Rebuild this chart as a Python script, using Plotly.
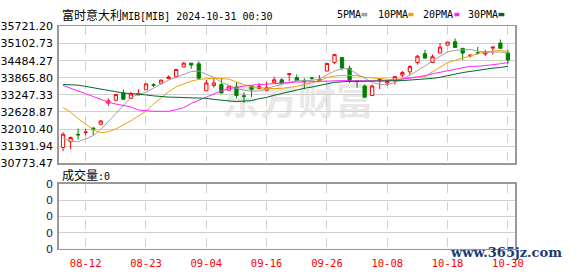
import plotly.graph_objects as go

W, H = 578, 276

DATES = ["08-07","08-08","08-09","08-12","08-13","08-14","08-16","08-19","08-20","08-21",
         "08-22","08-23","08-26","08-27","08-28","08-29","08-30","09-02","09-03","09-04",
         "09-05","09-06","09-09","09-10","09-11","09-12","09-13","09-16","09-17","09-18",
         "09-19","09-20","09-23","09-24","09-25","09-26","09-27","09-30","10-01","10-02",
         "10-03","10-04","10-07","10-08","10-09","10-10","10-11","10-14","10-15","10-16",
         "10-17","10-18","10-21","10-22","10-23","10-24","10-25","10-28","10-29","10-30"]

OPEN = [31344,31549,31820,31880,32048,32185,32950,33053,33312,33121,
        33244,33429,33610,33667,33838,33906,34258,34395,34372,33394,
        33587,33620,33414,33531,33210,33565,33472,33414,33701,33790,
        33985,33872,33770,33855,33758,34110,34419,34600,34214,33750,
        33565,33223,33770,33678,33770,33962,34081,34419,34737,34419,
        34760,35044,35169,34931,34660,34770,34726,34940,35123,34760]
HIGH = [31891,31740,32027,32027,32060,32335,33121,33280,33439,33360,
        33449,33667,33678,33790,33951,34166,34440,34395,34463,33790,
        33849,33849,33565,33701,33336,33565,33678,33712,33907,33849,
        34010,33985,33849,33900,33962,34384,34737,34600,34304,33758,
        33620,33620,33814,33758,33930,34110,34324,34690,34874,34703,
        35123,35158,35284,34931,34720,34987,34874,34976,35250,34874]
LOW = [31207,31286,31628,31775,31775,32150,32847,33030,33087,33121,
       33244,33429,33531,33660,33838,33906,34258,34190,33790,33394,
       33507,33312,33414,33131,32960,33165,33472,33414,33701,33678,
       33736,33758,33449,33790,33740,34110,34361,34132,33678,33507,
       33150,33223,33449,33580,33620,33887,33962,34340,34560,34419,
       34760,35044,34965,34509,34600,34703,34650,34703,34931,34361]
CLOSE = [31822,31706,31800,31900,32003,32301,33029,33258,33087,33278,
         33292,33644,33595,33780,33893,34166,34395,34327,33849,33678,
         33678,33312,33565,33223,33195,33449,33551,33507,33790,33678,
         34010,33758,33736,33845,33790,34384,34703,34214,33736,33730,
         33165,33565,33814,33736,33907,34053,34269,34645,34577,34623,
         34976,35158,34965,34760,34680,34750,34794,34976,34931,34509]

MA5 = [31684,31570,31550,31660,31770,31990,32290,32590,32880,33150,
       33270,33340,33490,33650,33780,33880,33975,34090,34110,34000,
       33880,33700,33600,33480,33420,33375,33390,33460,33560,33630,
       33690,33760,33760,33770,33820,33950,34110,34200,34180,34000,
       33840,33700,33620,33610,33700,33810,33960,34120,34290,34480,
       34640,34800,34860,34885,34890,34830,34790,34790,34800,34760]
MA10 = [32789,32618,32390,32196,31991,31877,31911,32014,32150,32310,
        32481,32652,32914,33142,33359,33541,33640,33747,33804,33838,
        33849,33838,33815,33712,33610,33530,33507,33484,33473,33484,
        33507,33550,33621,33678,33758,33872,33929,33952,33952,33940,
        33883,33861,33838,33815,33792,33826,33872,33890,33910,34077,
        34248,34418,34498,34578,34680,34737,34805,34828,34851,34817]
MA20 = [33587,33496,33382,33290,33188,33085,32983,32914,32869,32812,
        32698,32664,32652,32652,32652,32709,32785,32937,33051,33176,
        33290,33393,33473,33530,33564,33598,33621,33644,33667,33678,
        33701,33712,33712,33724,33735,33758,33769,33764,33758,33758,
        33735,33735,33747,33758,33792,33815,33849,33900,33940,34009,
        34066,34134,34180,34236,34282,34282,34299,34339,34373,34418]
MA30 = [33621,33610,33598,33553,33507,33473,33427,33370,33313,33296,
        33279,33245,33211,33182,33165,33160,33157,33142,33142,33120,
        33085,33045,33028,33006,33011,33040,33108,33154,33233,33302,
        33370,33416,33484,33530,33576,33644,33701,33724,33735,33735,
        33735,33735,33735,33735,33758,33764,33781,33798,33820,33843,
        33883,33929,33997,34054,34100,34134,34180,34214,34236,34282]
VOLUME = [0] * len(DATES)

Y_TICKS = ["30773.47","31391.94","32010.40","32628.87","33247.33",
           "33865.80","34484.27","35102.73","35721.20"]
X_TICKS = ["08-12","08-23","09-04","09-16","09-26","10-08","10-18","10-30"]
VOL_TICKS = ["0","0","0","0","0"]

MA_NAMES = ["5PMA", "10PMA", "20PMA", "30PMA"]
MA_COLORS = ["#a0a0a0", "#f0a000", "#ff22ff", "#00662e"]

def px(x):
    return x / W

def py(y):
    return 1 - y / H

fig = go.Figure()

fig.add_trace(go.Bar(x=DATES, y=VOLUME, xaxis="x2", yaxis="y2",
                     marker_color="#00662e", hoverinfo="skip", showlegend=False))

for name, vals, col in zip(MA_NAMES, [MA5, MA10, MA20, MA30], MA_COLORS):
    fig.add_trace(go.Scatter(x=DATES, y=vals, mode="lines", name=name,
                             line=dict(color=col, width=1), hoverinfo="skip",
                             showlegend=False))

fig.add_trace(go.Candlestick(
    x=DATES, open=OPEN, high=HIGH, low=LOW, close=CLOSE,
    increasing=dict(line=dict(color="#ff0000", width=1), fillcolor="#ffffff"),
    decreasing=dict(line=dict(color="#008000", width=1), fillcolor="#008000"),
    whiskerwidth=0, hoverinfo="skip", showlegend=False))

xl, xr = 55.8, 522.3
xrange = [-0.584, 60.0]
frame = "#999999"
grid = "#d0d0d0"

axis_common = dict(showline=True, linecolor=frame, linewidth=1.5, mirror=True,
                   zeroline=False, fixedrange=True)

fig.update_layout(
    width=W, height=H, margin=dict(l=0, r=0, t=0, b=0),
    paper_bgcolor="white", plot_bgcolor="white",
    showlegend=False, boxgap=0.38,
    xaxis=dict(domain=[px(xl), px(xr)], anchor="y", type="category",
               range=xrange, tickvals=X_TICKS, showticklabels=False,
               showgrid=True, gridcolor=grid, griddash="dash", gridwidth=1,
               ticks="", rangeslider=dict(visible=False), **axis_common),
    yaxis=dict(domain=[py(165), py(21.5)], anchor="x",
               range=[float(Y_TICKS[0]), float(Y_TICKS[-1])],
               tickvals=[float(v) for v in Y_TICKS], ticktext=Y_TICKS,
               showgrid=True, gridcolor=grid, gridwidth=1, ticks="",
               tickfont=dict(family="DejaVu Sans", size=11, color="#000000"),
               ticklabelstandoff=2, **axis_common),
    xaxis2=dict(domain=[px(xl), px(xr)], anchor="y2", type="category",
                range=xrange, tickvals=X_TICKS, ticktext=X_TICKS, matches="x",
                showgrid=True, gridcolor=grid, griddash="dash", gridwidth=1,
                ticks="", tickfont=dict(family="DejaVu Sans Mono", size=10.5,
                                        color="#ff0000"),
                ticklabelstandoff=4, **axis_common),
    yaxis2=dict(domain=[py(255), py(186.5)], anchor="x2", range=[0, 4],
                tickvals=[0, 1, 2, 3, 4], ticktext=VOL_TICKS,
                showgrid=True, gridcolor=grid, gridwidth=1, ticks="",
                tickfont=dict(family="DejaVu Sans", size=11, color="#10205a"),
                ticklabelstandoff=2, **axis_common),
)

mono = '<span style="font-family:DejaVu Sans Mono;font-size:10px">'
annotations = [
    dict(x=px(57), y=py(9), text="富时意大利" + mono + "MIB[MIB] 2024-10-31 00:30</span>"),
    dict(x=px(57), y=py(177), text="成交量" + mono + ":0</span>"),
]
leg_x = [338, 380, 426, 472]
sq_x = [(365, 371), (413, 418), (460, 465), (505, 511)]
for name, lx in zip(MA_NAMES, leg_x):
    annotations.append(dict(x=px(lx), y=py(9),
                            text=mono + name + "</span>"))
for a in annotations:
    a.update(xref="paper", yref="paper", xanchor="left", yanchor="middle",
             showarrow=False, font=dict(family="Noto Sans CJK SC", size=12,
                                        color="#000000"))
annotations.append(dict(x=px(513), y=py(259), xref="paper", yref="paper",
                        xanchor="center", yanchor="middle", showarrow=False,
                        text="www.365jz.com",
                        font=dict(family="DejaVu Serif", size=13,
                                  color="#1c3a73", weight="bold")))
fig.update_layout(annotations=annotations)

shapes = []
for (a, b), col in zip(sq_x, MA_COLORS):
    shapes.append(dict(type="rect", xref="paper", yref="paper",
                       x0=px(a), x1=px(b), y0=py(10.8), y1=py(7.2),
                       fillcolor=col, line=dict(width=0)))
shapes.append(dict(type="rect", xref="paper", yref="paper", layer="below",
                   x0=px(205), x1=px(395), y0=py(122), y1=py(82),
                   fillcolor="rgba(0,0,0,0)", line=dict(width=0),
                   label=dict(text="东方财富", textposition="middle center",
                              font=dict(family="Noto Sans CJK SC", size=38,
                                        color="#e8e8e8", weight="bold"))))
fig.update_layout(shapes=shapes)

fig.write_html("out.html", config={"displayModeBar": False, "staticPlot": True})
